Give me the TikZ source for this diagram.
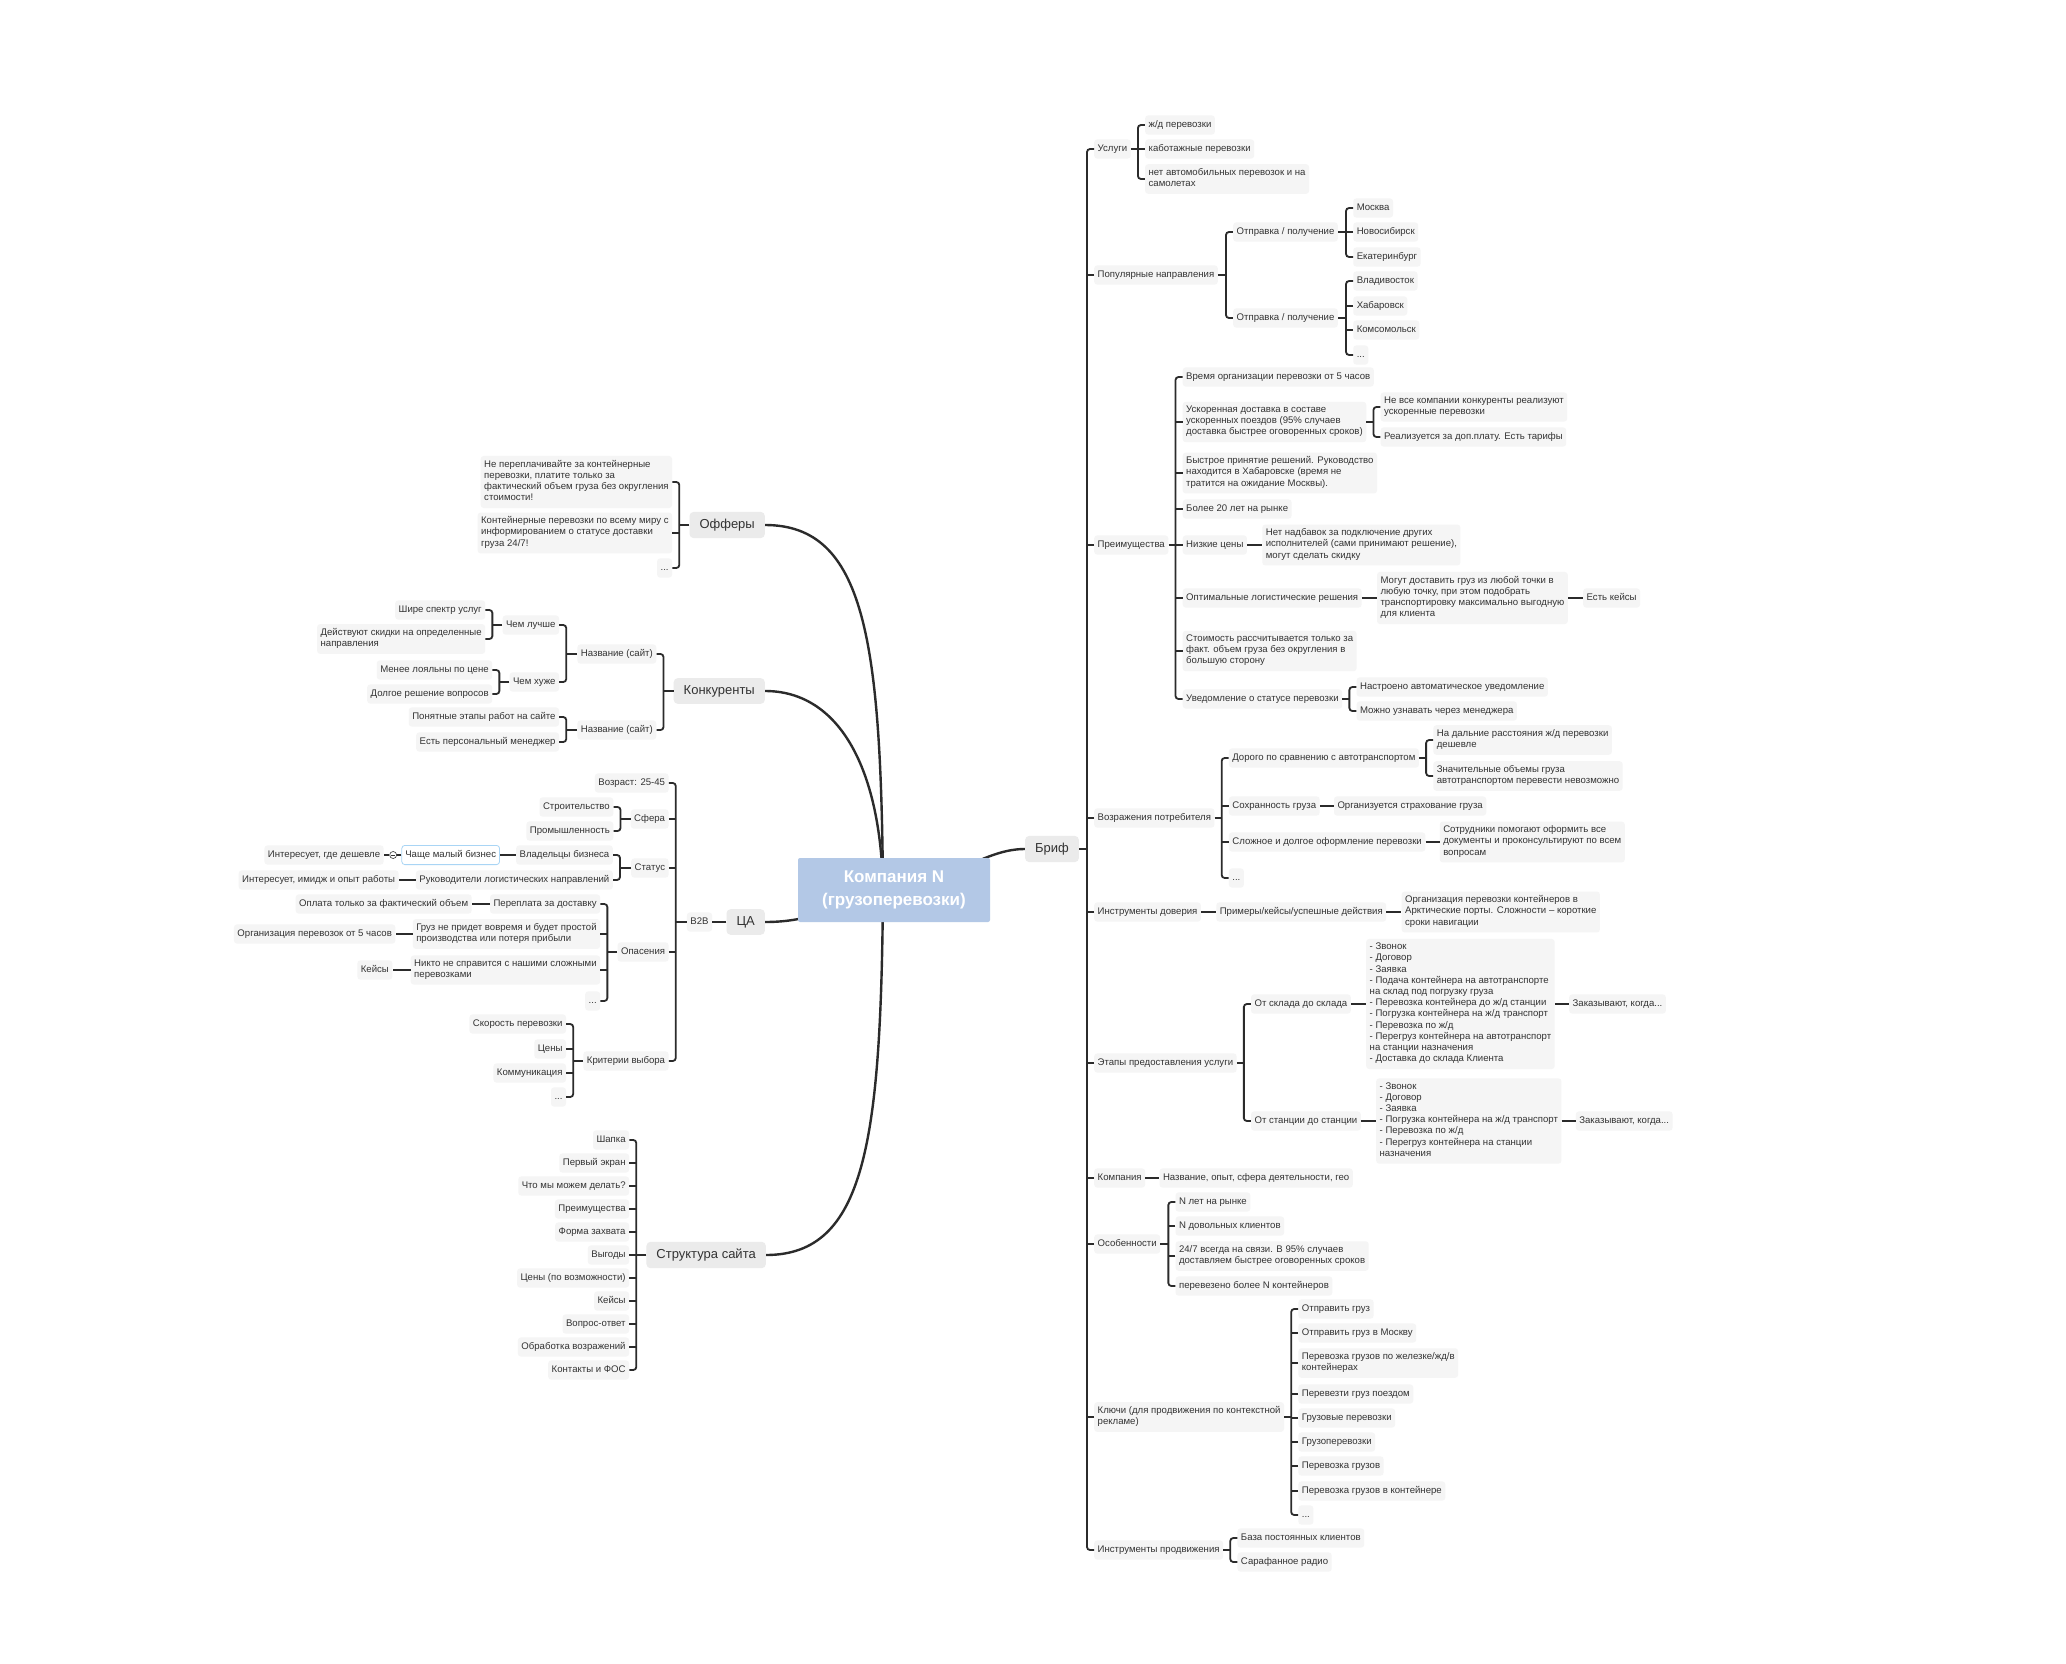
\documentclass[tikz,border=0pt]{standalone}
\usepackage{fontspec}
\setmainfont{Liberation Sans}
\usetikzlibrary{positioning,backgrounds}

\definecolor{ink}{HTML}{333333}
\definecolor{wire}{HTML}{2B2B2B}
\definecolor{leafbg}{HTML}{F5F5F5}
\definecolor{mainbg}{HTML}{EBEBEB}
\definecolor{rootbg}{HTML}{B3C8E6}
\definecolor{selblue}{HTML}{A9D5F5}

\tikzset{
  leaf/.style={fill=leafbg, rounded corners=3pt, text=ink, align=left,
    inner xsep=3.5pt, inner ysep=4pt, font=\fontsize{9.6}{11.2}\selectfont,
    execute at begin node=\strut, execute at end node=\strut},
  rleaf/.style={leaf, anchor=west},
  lleaf/.style={leaf, anchor=east},
  mainbox/.style={fill=mainbg, rounded corners=4pt, text=ink, inner xsep=10pt,
    inner ysep=7pt, font=\fontsize{13}{15}\selectfont},
  rootbox/.style={fill=rootbg, text=white, rounded corners=2pt, align=center,
    minimum width=192pt, minimum height=64pt,
    font=\fontsize{17}{23}\selectfont\bfseries},
  foldmark/.style={circle, draw=ink, fill=white, line width=0.6pt,
    inner sep=0pt, minimum size=7pt},
  branch/.style={draw=wire, line width=1.8pt},
  trunk/.style={draw=wire, line width=2.4pt},
}

% fork to the right: parent, first child, last child, middle children
\newcommand\rfork[4]{%
  \path (#2.west) ++(-7pt,0pt) coordinate (fk);
  \draw[branch] (#1.east) -- (#1.east -| fk);
  \draw[branch,rounded corners=3pt] (#2.west) -- (fk) |- (#3.west);
  \def\forkmid{#4}%
  \ifx\forkmid\empty\else
    \foreach \kid in {#4} {\draw[branch] (\kid.west) -- (\kid.west -| fk);}%
  \fi}
% fork to the left
\newcommand\lfork[4]{%
  \path (#2.east) ++(7pt,0pt) coordinate (fk);
  \draw[branch] (#1.west) -- (#1.west -| fk);
  \draw[branch,rounded corners=3pt] (#2.east) -- (fk) |- (#3.east);
  \def\forkmid{#4}%
  \ifx\forkmid\empty\else
    \foreach \kid in {#4} {\draw[branch] (\kid.east) -- (\kid.east -| fk);}%
  \fi}

\begin{document}
\begin{tikzpicture}[x=1pt,y=-1pt]
  \useasboundingbox (0,0) rectangle (2066,1664);

  \node[rootbox] (root) at (894,890) {Компания N\\(грузоперевозки)};
  \coordinate (hub) at ([xshift=-11pt]root.center);

  % Бриф
  \node[mainbox] (brief) at (1052,849) {Бриф};

  \node[rleaf] (usl) at (1094,149) {Услуги};
  \node[rleaf, right=14pt of usl, yshift=24pt] (usl1) {ж/д перевозки};
  \node[rleaf, right=14pt of usl] (usl2) {каботажные перевозки};
  \node[rleaf, right=14pt of usl, yshift=-30pt] (usl3) {нет автомобильных перевозок и на\\самолетах};

  \node[rleaf] (pop) at (1094,275) {Популярные направления};
  \node[rleaf, right=15pt of pop, yshift=43pt] (pop1) {Отправка / получение};
  \node[rleaf, right=15pt of pop, yshift=-43pt] (pop2) {Отправка / получение};
  \node[rleaf, right=15pt of pop1, yshift=24pt] (msk) {Москва};
  \node[rleaf, right=15pt of pop1] (nsk) {Новосибирск};
  \node[rleaf, right=15pt of pop1, yshift=-25pt] (ekb) {Екатеринбург};
  \node[rleaf, right=15pt of pop2, yshift=37pt] (vlk) {Владивосток};
  \node[rleaf, right=15pt of pop2, yshift=12pt] (hab) {Хабаровск};
  \node[rleaf, right=15pt of pop2, yshift=-12pt] (kms) {Комсомольск};
  \node[rleaf, right=15pt of pop2, yshift=-37pt] (pop2x) {...};

  \node[rleaf] (adv) at (1094,545) {Преимущества};
  \node[rleaf, right=14pt of adv, yshift=168pt] (adv1) {Время организации перевозки от 5 часов};
  \node[rleaf, right=14pt of adv, yshift=123pt] (adv2) {Ускоренная доставка в составе\\ускоренных поездов (95\% случаев\\доставка быстрее оговоренных сроков)};
  \node[rleaf, right=14pt of adv2, yshift=15pt] (adv2a) {Не все компании конкуренты реализуют\\ускоренные перевозки};
  \node[rleaf, right=14pt of adv2, yshift=-15pt] (adv2b) {Реализуется за доп.плату. Есть тарифы};
  \node[rleaf, right=14pt of adv, yshift=72pt] (adv3) {Быстрое принятие решений. Руководство\\находится в Хабаровске (время не\\тратится на ожидание Москвы).};
  \node[rleaf, right=14pt of adv, yshift=36pt] (adv4) {Более 20 лет на рынке};
  \node[rleaf, right=14pt of adv] (adv5) {Низкие цены};
  \node[rleaf, right=15pt of adv5] (adv5a) {Нет надбавок за подключение других\\исполнителей (сами принимают решение),\\могут сделать скидку};
  \node[rleaf, right=14pt of adv, yshift=-53pt] (adv6) {Оптимальные логистические решения};
  \node[rleaf, right=15pt of adv6] (adv6a) {Могут доставить груз из любой точки в\\любую точку, при этом подобрать\\транспортировку максимально выгодную\\для клиента};
  \node[rleaf, right=15pt of adv6a] (adv6b) {Есть кейсы};
  \node[rleaf, right=14pt of adv, yshift=-106pt] (adv7) {Стоимость рассчитывается только за\\факт. объем груза без округления в\\большую сторону};
  \node[rleaf, right=14pt of adv, yshift=-154pt] (adv8) {Уведомление о статусе перевозки};
  \node[rleaf, right=14pt of adv8, yshift=12pt] (adv8a) {Настроено автоматическое уведомление};
  \node[rleaf, right=14pt of adv8, yshift=-12pt] (adv8b) {Можно узнавать через менеджера};

  \node[rleaf] (obj) at (1094,818) {Возражения потребителя};
  \node[rleaf, right=14pt of obj, yshift=60pt] (obj1) {Дорого по сравнению с автотранспортом};
  \node[rleaf, right=14pt of obj1, yshift=18pt] (obj1a) {На дальние расстояния ж/д перевозки\\дешевле};
  \node[rleaf, right=14pt of obj1, yshift=-18pt] (obj1b) {Значительные объемы груза\\автотранспортом перевести невозможно};
  \node[rleaf, right=14pt of obj, yshift=12pt] (obj2) {Сохранность груза};
  \node[rleaf, right=14pt of obj2] (obj2a) {Организуется страхование груза};
  \node[rleaf, right=14pt of obj, yshift=-24pt] (obj3) {Сложное и долгое оформление перевозки};
  \node[rleaf, right=14pt of obj3] (obj3a) {Сотрудники помогают оформить все\\документы и проконсультируют по всем\\вопросам};
  \node[rleaf, right=14pt of obj, yshift=-60pt] (obj4) {...};

  \node[rleaf] (trust) at (1094,912) {Инструменты доверия};
  \node[rleaf, right=15pt of trust] (trust1) {Примеры/кейсы/успешные действия};
  \node[rleaf, right=15pt of trust1] (trust2) {Организация перевозки контейнеров в\\Арктические порты. Сложности – короткие\\сроки навигации};

  \node[rleaf] (stage) at (1094,1063) {Этапы предоставления услуги};
  \node[rleaf, right=14pt of stage, yshift=59pt] (stage1) {От склада до склада};
  \node[rleaf, right=15pt of stage1] (stage1a) {- Звонок\\- Договор\\- Заявка\\- Подача контейнера на автотранспорте\\на склад под погрузку груза\\- Перевозка контейнера до ж/д станции\\- Погрузка контейнера на ж/д транспорт\\- Перевозка по ж/д\\- Перегруз контейнера на автотранспорт\\на станции назначения\\- Доставка до склада Клиента};
  \node[rleaf, right=14pt of stage1a] (stage1b) {Заказывают, когда...};
  \node[rleaf, right=14pt of stage, yshift=-58pt] (stage2) {От станции до станции};
  \node[rleaf, right=15pt of stage2] (stage2a) {- Звонок\\- Договор\\- Заявка\\- Погрузка контейнера на ж/д транспорт\\- Перевозка по ж/д\\- Перегруз контейнера на станции\\назначения};
  \node[rleaf, right=14pt of stage2a] (stage2b) {Заказывают, когда...};

  \node[rleaf] (comp) at (1094,1178) {Компания};
  \node[rleaf, right=14pt of comp] (comp1) {Название, опыт, сфера деятельности, гео};

  \node[rleaf] (feat) at (1094,1244) {Особенности};
  \node[rleaf, right=15pt of feat, yshift=42pt] (feat1) {N лет на рынке};
  \node[rleaf, right=15pt of feat, yshift=18pt] (feat2) {N довольных клиентов};
  \node[rleaf, right=15pt of feat, yshift=-12pt] (feat3) {24/7 всегда на связи. В 95\% случаев\\доставляем быстрее оговоренных сроков};
  \node[rleaf, right=15pt of feat, yshift=-42pt] (feat4) {перевезено более N контейнеров};

  \node[rleaf] (keys) at (1094,1417) {Ключи (для продвижения по контекстной\\рекламе)};
  \node[rleaf, right=14pt of keys, yshift=108pt] (key1) {Отправить груз};
  \node[rleaf, right=14pt of keys, yshift=84pt] (key2) {Отправить груз в Москву};
  \node[rleaf, right=14pt of keys, yshift=54pt] (key3) {Перевозка грузов по железке/жд/в\\контейнерах};
  \node[rleaf, right=14pt of keys, yshift=23pt] (key4) {Перевезти груз поездом};
  \node[rleaf, right=14pt of keys, yshift=-1pt] (key5) {Грузовые перевозки};
  \node[rleaf, right=14pt of keys, yshift=-25pt] (key6) {Грузоперевозки};
  \node[rleaf, right=14pt of keys, yshift=-49pt] (key7) {Перевозка грузов};
  \node[rleaf, right=14pt of keys, yshift=-74pt] (key8) {Перевозка грузов в контейнере};
  \node[rleaf, right=14pt of keys, yshift=-98pt] (key9) {...};

  \node[rleaf] (prom) at (1094,1550) {Инструменты продвижения};
  \node[rleaf, right=14pt of prom, yshift=12pt] (prom1) {База постоянных клиентов};
  \node[rleaf, right=14pt of prom, yshift=-12pt] (prom2) {Сарафанное радио};

  % Офферы
  \node[mainbox, anchor=east] (offer) at (765,525) {Офферы};
  \node[lleaf, left=17pt of offer, yshift=43pt] (offer1) {Не переплачивайте за контейнерные\\перевозки, платите только за\\фактический объем груза без округления\\стоимости!};
  \node[lleaf, left=17pt of offer, yshift=-8pt] (offer2) {Контейнерные перевозки по всему миру с\\информированием о статусе доставки\\груза 24/7!};
  \node[lleaf, left=17pt of offer, yshift=-43pt] (offer3) {...};

  % Конкуренты
  \node[mainbox, anchor=east] (rival) at (765,691) {Конкуренты};
  \node[lleaf, left=17pt of rival, yshift=37pt] (rival1) {Название (сайт)};
  \node[lleaf, left=18pt of rival1, yshift=29pt] (better) {Чем лучше};
  \node[lleaf, left=17pt of better, yshift=15pt] (better1) {Шире спектр услуг};
  \node[lleaf, left=17pt of better, yshift=-14pt] (better2) {Действуют скидки на определенные\\направления};
  \node[lleaf, left=18pt of rival1, yshift=-28pt] (worse) {Чем хуже};
  \node[lleaf, left=17pt of worse, yshift=12pt] (worse1) {Менее лояльны по цене};
  \node[lleaf, left=17pt of worse, yshift=-12pt] (worse2) {Долгое решение вопросов};
  \node[lleaf, left=17pt of rival, yshift=-39pt] (rival2) {Название (сайт)};
  \node[lleaf, left=18pt of rival2, yshift=13pt] (rival2a) {Понятные этапы работ на сайте};
  \node[lleaf, left=18pt of rival2, yshift=-12pt] (rival2b) {Есть персональный менеджер};

  % ЦА
  \node[mainbox, anchor=east] (ca) at (765,922) {ЦА};
  \node[lleaf, left=14pt of ca] (b2b) {B2B};
  \node[lleaf, left=18pt of b2b, yshift=139pt] (age) {Возраст: 25-45};
  \node[lleaf, left=18pt of b2b, yshift=103pt] (sphere) {Сфера};
  \node[lleaf, left=17pt of sphere, yshift=12pt] (build) {Строительство};
  \node[lleaf, left=17pt of sphere, yshift=-12pt] (industry) {Промышленность};
  \node[lleaf, left=18pt of b2b, yshift=54pt] (status) {Статус};
  \node[lleaf, left=18pt of status, yshift=13pt] (owners) {Владельцы бизнеса};
  \node[lleaf, left=16pt of owners, fill=white, draw=selblue, line width=0.8pt] (small) {Чаще малый бизнес};
  \node[foldmark, left=4.5pt of small] (fold) {};
  \node[lleaf, left=5.5pt of fold] (cheap) {Интересует, где дешевле};
  \node[lleaf, left=18pt of status, yshift=-12pt] (heads) {Руководители логистических направлений};
  \node[lleaf, left=17pt of heads] (image) {Интересует, имидж и опыт работы};
  \node[lleaf, left=18pt of b2b, yshift=-30pt] (fear) {Опасения};
  \node[lleaf, left=17pt of fear, yshift=48pt] (over) {Переплата за доставку};
  \node[lleaf, left=18pt of over] (pay) {Оплата только за фактический объем};
  \node[lleaf, left=17pt of fear, yshift=18pt] (late) {Груз не придет вовремя и будет простой\\производства или потеря прибыли};
  \node[lleaf, left=17pt of late] (org5) {Организация перевозок от 5 часов};
  \node[lleaf, left=17pt of fear, yshift=-18pt] (nobody) {Никто не справится с нашими сложными\\перевозками};
  \node[lleaf, left=18pt of nobody] (cases) {Кейсы};
  \node[lleaf, left=17pt of fear, yshift=-49pt] (fearx) {...};
  \node[lleaf, left=18pt of b2b, yshift=-139pt] (crit) {Критерии выбора};
  \node[lleaf, left=17pt of crit, yshift=37pt] (speed) {Скорость перевозки};
  \node[lleaf, left=17pt of crit, yshift=12pt] (prices) {Цены};
  \node[lleaf, left=17pt of crit, yshift=-12pt] (talk) {Коммуникация};
  \node[lleaf, left=17pt of crit, yshift=-36pt] (critx) {...};

  % Структура сайта
  \node[mainbox, anchor=east] (site) at (766,1255) {Структура сайта};
  \node[lleaf, left=17pt of site, yshift=115pt] (s1) {Шапка};
  \node[lleaf, left=17pt of site, yshift=92pt] (s2) {Первый экран};
  \node[lleaf, left=17pt of site, yshift=69pt] (s3) {Что мы можем делать?};
  \node[lleaf, left=17pt of site, yshift=46pt] (s4) {Преимущества};
  \node[lleaf, left=17pt of site, yshift=23pt] (s5) {Форма захвата};
  \node[lleaf, left=17pt of site] (s6) {Выгоды};
  \node[lleaf, left=17pt of site, yshift=-23pt] (s7) {Цены (по возможности)};
  \node[lleaf, left=17pt of site, yshift=-46pt] (s8) {Кейсы};
  \node[lleaf, left=17pt of site, yshift=-69pt] (s9) {Вопрос-ответ};
  \node[lleaf, left=17pt of site, yshift=-92pt] (s10) {Обработка возражений};
  \node[lleaf, left=17pt of site, yshift=-115pt] (s11) {Контакты и ФОС};

  % forks, right side
  \rfork{brief}{usl}{prom}{pop,adv,obj,trust,stage,comp,feat,keys}
  \rfork{usl}{usl1}{usl3}{usl2}
  \rfork{pop}{pop1}{pop2}{}
  \rfork{pop1}{msk}{ekb}{nsk}
  \rfork{pop2}{vlk}{pop2x}{hab,kms}
  \rfork{adv}{adv1}{adv8}{adv2,adv3,adv4,adv5,adv6,adv7}
  \rfork{adv2}{adv2a}{adv2b}{}
  \rfork{adv8}{adv8a}{adv8b}{}
  \rfork{obj}{obj1}{obj4}{obj2,obj3}
  \rfork{obj1}{obj1a}{obj1b}{}
  \rfork{stage}{stage1}{stage2}{}
  \rfork{feat}{feat1}{feat4}{feat2,feat3}
  \rfork{keys}{key1}{key9}{key2,key3,key4,key5,key6,key7,key8}
  \rfork{prom}{prom1}{prom2}{}
  \draw[branch] (adv5.east) -- (adv5a.west);
  \draw[branch] (adv6.east) -- (adv6a.west);
  \draw[branch] (adv6a.east) -- (adv6b.west);
  \draw[branch] (obj2.east) -- (obj2a.west);
  \draw[branch] (obj3.east) -- (obj3a.west);
  \draw[branch] (trust.east) -- (trust1.west);
  \draw[branch] (trust1.east) -- (trust2.west);
  \draw[branch] (stage1.east) -- (stage1a.west);
  \draw[branch] (stage1a.east) -- (stage1b.west);
  \draw[branch] (stage2.east) -- (stage2a.west);
  \draw[branch] (stage2a.east) -- (stage2b.west);
  \draw[branch] (comp.east) -- (comp1.west);

  % forks, left side
  \lfork{offer}{offer1}{offer3}{offer2}
  \lfork{rival}{rival1}{rival2}{}
  \lfork{rival1}{better}{worse}{}
  \lfork{better}{better1}{better2}{}
  \lfork{worse}{worse1}{worse2}{}
  \lfork{rival2}{rival2a}{rival2b}{}
  \lfork{b2b}{age}{crit}{sphere,status,fear}
  \lfork{sphere}{build}{industry}{}
  \lfork{status}{owners}{heads}{}
  \lfork{fear}{over}{fearx}{late,nobody}
  \lfork{crit}{speed}{critx}{prices,talk}
  \lfork{site}{s1}{s11}{s2,s3,s4,s5,s6,s7,s8,s9,s10}
  \draw[branch] (ca.west) -- (b2b.east);
  \draw[branch] (owners.west) -- (small.east);
  \draw[branch] (small.west) -- (fold.east);
  \draw[branch] (fold.west) -- (cheap.east);
  \draw[ink, line width=0.6pt] ([xshift=-2pt]fold.center) -- ([xshift=2pt]fold.center);
  \draw[branch] (heads.west) -- (image.east);
  \draw[branch] (over.west) -- (pay.east);
  \draw[branch] (late.west) -- (org5.east);
  \draw[branch] (nobody.west) -- (cases.east);

  \begin{pgfonlayer}{background}
    \fill[white] (0,0) rectangle (2066,1664);
    \draw[trunk] (root.center) .. controls +(60,-10) and +(-40,0) .. (brief.west);
    \draw[trunk] (hub) .. controls +(-2,-250) and +(100,0) .. (offer.east);
    \draw[trunk] (hub) .. controls +(-2,-120) and +(75,0) .. (rival.east);
    \draw[trunk] (root.center) .. controls +(-60,15) and +(50,0) .. (ca.east);
    \draw[trunk] (hub) .. controls +(-2,250) and +(100,0) .. (site.east);
  \end{pgfonlayer}
\end{tikzpicture}
\end{document}
